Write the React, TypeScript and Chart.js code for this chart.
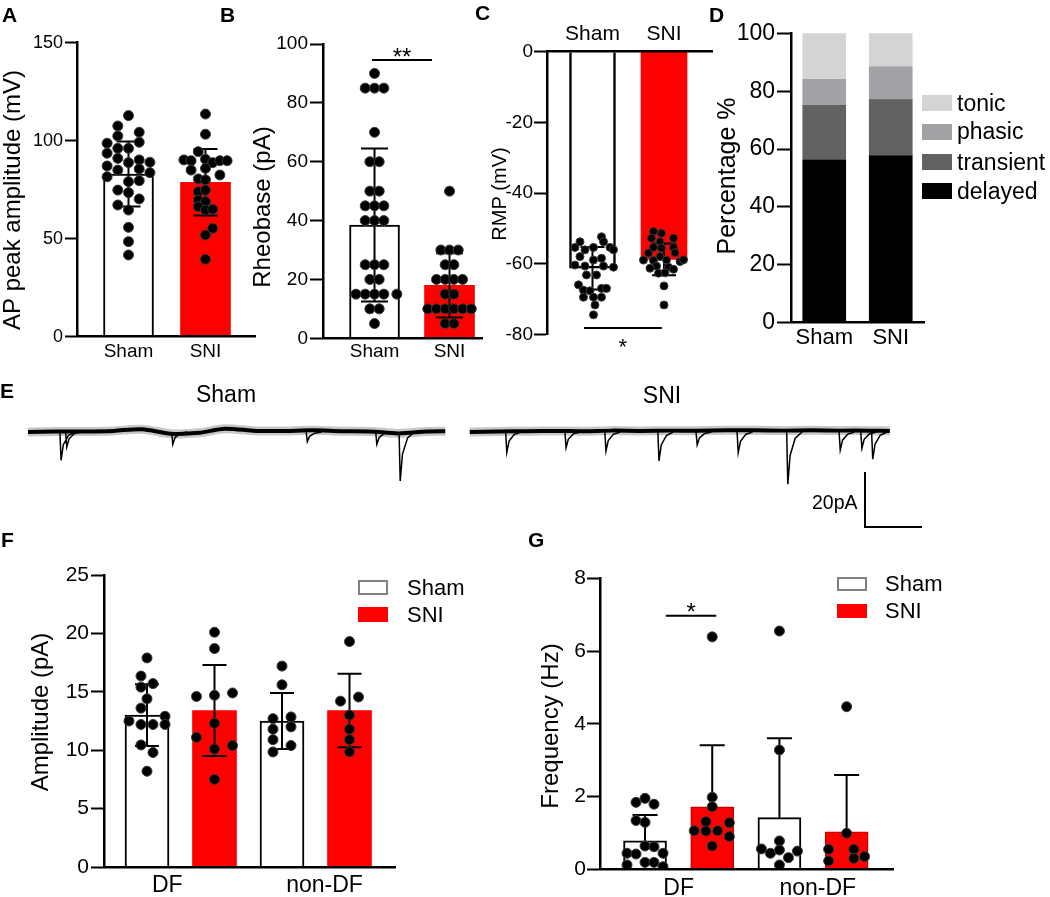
import React, { useEffect, useRef } from "react";
import { Chart, registerables } from "chart.js";
Chart.register(...registerables);

const FONT = "'Liberation Sans', Arial, Helvetica, sans-serif";
const RED = "#ff0000";

// ================= DATA =================
const groups = ["Sham", "SNI"];

// Panel A – AP peak amplitude (mV); points are [column, value]
const apMean = [83.0, 78.8];
const apSD = [16.6, 17.0];
const apSham = [[0,112.8],[-1,107.5],[1,104.3],[-1,102.4],[-2,98.7],[1,99.2],[-1,96.1],[0,96.1],[-2,93.6],[-1,91.0],[0,88.8],[1,90.2],[2,89.0],[-2,87.1],[-1,85.0],[1,85.6],[2,83.7],[-2,81.6],[0,79.1],[1,79.6],[-1,74.8],[0,73.5],[1,70.3],[-1,67.2],[0,64.6],[0,55.8],[0,48.5],[0,41.7]];
const apSNI = [[0,113.6],[0,103.3],[-1,94.4],[-3,90.2],[-2,89.8],[0,90.5],[1,88.8],[2,89.8],[3,89.8],[-2,85.0],[0,85.9],[2,82.5],[-1,80.5],[0,80.0],[-1,74.0],[0,74.8],[-1,69.7],[0,68.9],[-1,66.3],[0,64.6],[1,65.0],[1,55.3],[0,51.9],[0,39.5]];

// Panel B – Rheobase (pA)
const rbMean = [38.5, 18.0];
const rbSD = [26.0, 10.9];
const rbSham = [[0,90],[-1,85],[0,85],[1,85],[0,70],[-0.5,60],[0.5,60],[-0.5,50],[0.5,50],[-1,45],[0,45],[1,45],[-1,40],[0,40],[1,40],[-1,25],[0,25],[1,25],[-0.5,20],[0.5,20],[-2,15],[-1,15],[0,15],[1,15],[2.4,15],[-0.5,10],[0.5,10],[0,5]];
const rbSNI = [[0,50],[-1,30],[0,30],[1,30],[-0.5,25],[0.5,25],[-1.5,20],[-0.5,20],[0.5,20],[1.5,20],[-0.5,15],[0.5,15],[-2.5,10],[-1.5,10],[-0.5,10],[0.5,10],[1.5,10],[2.5,10],[-0.5,5],[0.5,5]];
const rbSig = { from: 0.967, to: 1.767, y: 94.6, text: "**" };

// Panel C – RMP (mV)
const rmpMean = [-61.3, -58.8];
const rmpSD = [6.0, 4.5];
const rmpSham = [[1.8,-52.4],[-2.5,-53.8],[0.2,-55.4],[3.5,-55.4],[-3.5,-55.4],[2.2,-53.8],[4.2,-56.1],[-1.5,-56.1],[-2.5,-58.0],[1.8,-58.5],[0.2,-59.0],[-3.5,-60.4],[-1.5,-60.7],[2.2,-60.7],[4.2,-61.0],[-1.2,-63.2],[0.8,-63.2],[-2.8,-66.0],[1.8,-67.0],[2.8,-67.0],[-1.8,-67.5],[-0.5,-67.7],[-1.8,-69.5],[0.2,-69.5],[1.8,-69.5],[0.5,-71.7],[0.2,-74.5]];
const rmpSNI = [[-2.1,-50.9],[-0.5,-51.4],[1.9,-52.8],[-2.5,-52.8],[-0.8,-53.8],[1.9,-55.4],[-2.1,-55.4],[-0.5,-55.6],[2.2,-56.9],[-3.1,-57.0],[-0.8,-58.0],[-4.1,-59.0],[-2.1,-59.1],[0.5,-59.0],[3.2,-59.4],[3.9,-58.9],[-1.5,-60.7],[0.9,-61.0],[-2.8,-61.3],[1.9,-61.6],[-1.1,-62.7],[0.2,-62.6],[0,-66.3],[0,-71.7]];
const rmpSig = { from: 0.88, to: 1.97, y: -78.2, text: "*" };

// Panel D – firing pattern percentage (bottom to top)
const firingTypes = ["delayed", "transient", "phasic", "tonic"];
const firingSham = [56.2, 18.9, 9.0, 15.9];
const firingSNI = [57.7, 19.4, 11.3, 11.6];

// Panel E – sEPSC traces (time s, current pA)
const shamTraceT = [0, 0.5, 1.0, 1.5, 2.0, 2.5, 3.0, 3.45, 4.0, 4.5, 5.0, 5.5, 6.0, 6.5, 7.0, 7.32];
const shamTraceV = [0.0, 0.2, 0.2, 0.4, 1.0, -0.6, -0.3, 1.2, 0.4, 0.4, 0.6, 0.3, 0.2, -0.5, 0.2, 0.3];
const sniTraceT = [7.75, 8.25, 8.75, 9.25, 9.75, 10.25, 10.75, 11.25, 11.75, 12.25, 12.75, 13.25, 13.75, 14.25, 14.75, 15.12];
const sniTraceV = [0.0, 0.2, 0.3, 0.4, 0.3, 0.5, 0.4, 0.5, 0.5, 0.6, 0.6, 0.5, 0.6, 0.5, 0.5, 0.4];
const shamEvents = [[0.58, 10.3], [0.68, 5.5], [2.54, 4.5], [4.9, 3.5], [6.12, 4.5], [6.53, 17.8]];
const sniEvents = [[8.40, 7.4], [9.44, 5.7], [10.14, 6.9], [11.07, 10.5], [11.74, 4.7], [12.46, 7.5], [13.33, 19.0], [14.25, 6.6], [14.63, 5.9], [14.82, 9.9]];
const scaleBarPA = 20;
const scaleBarSec = 1;

// Panel F – sEPSC amplitude (pA): Sham DF, SNI DF, Sham non-DF, SNI non-DF
const sites = ["DF", "non-DF"];
const ampMean = [13.0, 13.4, 12.5, 13.4];
const ampSD = [2.65, 3.9, 2.4, 3.15];
const ampPts = [
  [[0,17.9],[-1,16.35],[1,15.7],[-1,15.4],[0,14.4],[-1,13.6],[-3,12.5],[3,12.9],[-1,12.2],[1,12.2],[3,12.2],[-1,10.45],[1,9.8],[0,8.2]],
  [[0,20.1],[0,18.7],[-3,14.6],[0,14.7],[3,14.9],[0,12.3],[-3,11.1],[0,10.1],[3,10.4],[0,7.5]],
  [[0,17.2],[0,15.6],[-1.5,12.7],[1.5,12.85],[-1.5,11.8],[1.5,12.0],[-1.5,10.9],[1.5,10.4],[-1.5,9.85]],
  [[0,19.3],[-1.5,14.2],[1.5,14.55],[0,13.0],[0,11.8],[0,10.9],[0,9.85]],
];

// Panel G – sEPSC frequency (Hz)
const freqMean = [0.78, 1.72, 1.42, 1.03];
const freqSD = [0.71, 1.69, 2.18, 1.56];
const freqPts = [
  [[-1,1.84],[0,1.95],[1,1.79],[-1,1.34],[0,1.29],[-2,0.44],[-1,0.42],[0,0.64],[1,0.62],[2,0.44],[-2,0.12],[0,0.19],[1,0.19],[2,0.07]],
  [[0,6.39],[0,1.98],[0,1.72],[-0.7,1.31],[-2,1.06],[-0.7,1.05],[0.6,1.06],[1.9,1.28],[1.9,0.9],[0,0.64]],
  [[0,6.55],[0,3.28],[0,0.78],[-2,0.56],[-1,0.44],[0,0.53],[1,0.32],[2,0.5],[0,0.12]],
  [[0,4.47],[0,0.99],[-2,0.55],[0.8,0.55],[0.8,0.3],[2,0.35],[-2,0.23]],
];
const freqSig = { from: 1.31, to: 2.06, y: 6.97, text: "*" };

// ================= STYLE =================
const FIRING_COLORS: any = { tonic: "#d4d4d4", phasic: "#a2a2a6", transient: "#626262", delayed: "#000000" };

// ================= HELPERS =================
function frame(box: any, area: any, xTop = false) {
  return {
    padding: xTop
      ? { left: 0, top: 0, right: box.l + box.w - area.r, bottom: box.t + box.h - area.b }
      : { left: 0, top: area.t - box.t, right: box.l + box.w - area.r, bottom: 0 },
    yWidth: area.l - box.l,
    xHeight: xTop ? area.t - box.t : box.t + box.h - area.b,
  };
}

const errorBars = {
  id: "errorBars",
  afterDatasetDraw(chart: any, args: any) {
    const ds = chart.data.datasets[args.index];
    if (!ds.sd) return;
    const ctx = chart.ctx as CanvasRenderingContext2D;
    const ys = chart.scales.y;
    ctx.save();
    ctx.strokeStyle = "#000";
    ctx.lineWidth = 2;
    args.meta.data.forEach((el: any, i: number) => {
      const m = ds.data[i].y;
      const s = ds.sd[i];
      const ends = ds.errMode === "up" ? [m + s] : [m + s, m - s];
      const pm = ys.getPixelForValue(m);
      for (const v of ends) {
        const pv = ys.getPixelForValue(v);
        ctx.beginPath();
        ctx.moveTo(el.x, pm);
        ctx.lineTo(el.x, pv);
        ctx.moveTo(el.x - ds.cap / 2, pv);
        ctx.lineTo(el.x + ds.cap / 2, pv);
        ctx.stroke();
      }
    });
    ctx.restore();
  },
};

function overlay(box: any, title: any, sig?: any) {
  return {
    id: "overlay",
    afterDraw(chart: any) {
      const ctx = chart.ctx as CanvasRenderingContext2D;
      ctx.save();
      ctx.fillStyle = "#000";
      ctx.font = `${title.size}px ${FONT}`;
      ctx.textAlign = "center";
      ctx.textBaseline = "middle";
      ctx.translate(title.x - box.l, title.y - box.t);
      ctx.rotate(-Math.PI / 2);
      ctx.fillText(title.text, 0, 0);
      ctx.restore();
      if (sig) {
        const xs = chart.scales.x, ys = chart.scales.y;
        const x1 = xs.getPixelForValue(sig.from);
        const x2 = xs.getPixelForValue(sig.to);
        const py = ys.getPixelForValue(sig.y);
        ctx.save();
        ctx.strokeStyle = "#000";
        ctx.lineWidth = 2;
        ctx.beginPath();
        ctx.moveTo(x1, py);
        ctx.lineTo(x2, py);
        ctx.stroke();
        ctx.fillStyle = "#000";
        ctx.font = `${sig.size}px ${FONT}`;
        ctx.textAlign = "center";
        ctx.textBaseline = "alphabetic";
        ctx.fillText(sig.text, (x1 + x2) / 2, py + sig.dy);
        ctx.restore();
      }
    },
  };
}

function yAxis(s: any, f: any) {
  return {
    type: "linear",
    min: s.yMin,
    max: s.yMax,
    ticks: { stepSize: s.yStep, color: "#000", padding: s.tickPad, font: { family: FONT, size: s.tickSize } },
    grid: { display: true, drawOnChartArea: false, drawTicks: true, tickLength: s.tickLen, tickColor: "#000", tickWidth: 2 },
    border: { display: true, color: "#000", width: 2.5, z: 1 },
    afterFit: (sc: any) => { sc.width = f.yWidth; },
  };
}

function dotChart(canvas: HTMLCanvasElement, s: any) {
  const f = frame(s.box, s.area, !!s.xTop);
  const datasets: any[] = [
    {
      type: "bar",
      order: 2,
      data: s.barX.map((x: number, i: number) => ({ x, y: s.means[i] })),
      backgroundColor: s.fill,
      borderColor: s.stroke,
      borderWidth: s.strokeW,
      barThickness: s.barW,
      sd: s.sd,
      errMode: s.errMode,
      cap: s.cap,
    },
    ...s.pts.map((arr: number[][], i: number) => ({
      type: "scatter",
      order: 1,
      data: arr.map(([c, v]) => ({ x: s.barX[i] + c * s.jitter[i], y: v })),
      pointRadius: s.dotR,
      pointHoverRadius: s.dotR,
      backgroundColor: "#000",
      borderColor: "#3c3c3c",
      borderWidth: 1,
      pointBackgroundColor: "#000",
      pointBorderColor: "#3c3c3c",
      pointBorderWidth: 1,
    })),
  ];
  return new Chart(canvas, {
    type: "bar",
    data: { datasets },
    options: {
      responsive: false,
      animation: false,
      devicePixelRatio: 1,
      events: [],
      layout: { padding: f.padding },
      plugins: { legend: { display: false }, tooltip: { enabled: false } },
      scales: {
        x: {
          type: "linear",
          position: s.xTop ? "top" : "bottom",
          min: s.xMin,
          max: s.xMax,
          offset: false,
          grid: { display: false, drawTicks: false, offset: false },
          border: { display: true, color: "#000", width: 2.5, z: 1 },
          afterBuildTicks: (sc: any) => { sc.ticks = s.labelX.map((v: number) => ({ value: v })); },
          ticks: {
            autoSkip: false,
            maxRotation: 0,
            minRotation: 0,
            padding: s.labelPad,
            color: "#000",
            font: { family: FONT, size: s.labelSize },
            callback: (_v: any, i: number) => s.labels[i],
          },
          afterFit: (sc: any) => { sc.height = f.xHeight; },
        },
        y: yAxis(s, f),
      },
    } as any,
    plugins: [errorBars, overlay(s.box, s.title, s.sig)],
  } as any);
}

function stackChart(canvas: HTMLCanvasElement, s: any) {
  const f = frame(s.box, s.area);
  return new Chart(canvas, {
    type: "bar",
    data: {
      labels: groups,
      datasets: firingTypes.map((name, k) => ({
        label: name,
        data: [firingSham[k], firingSNI[k]],
        backgroundColor: FIRING_COLORS[name],
        borderWidth: 0,
        barThickness: s.barW,
      })),
    },
    options: {
      responsive: false,
      animation: false,
      devicePixelRatio: 1,
      events: [],
      layout: { padding: f.padding },
      plugins: { legend: { display: false }, tooltip: { enabled: false } },
      scales: {
        x: {
          stacked: true,
          grid: { display: false, drawTicks: false },
          border: { display: true, color: "#000", width: 2.5, z: 1 },
          ticks: { color: "#000", padding: s.labelPad, maxRotation: 0, font: { family: FONT, size: s.labelSize } },
          afterFit: (sc: any) => { sc.height = f.xHeight; },
        },
        y: { ...yAxis(s, f), stacked: true },
      },
    } as any,
    plugins: [overlay(s.box, s.title)],
  } as any);
}

// Trace panel geometry (layout constants)
const E_BOX = { l: 20, t: 370, w: 920, h: 170 };
const E_X0 = 28; // page x of t = 0
const E_Y0 = 432; // page y of 0 pA
const E_PX_S = 57;
const E_PX_PA = 2.75;
const E_BAR_ANCHOR = { x: 865, y: 472 };

function traceChart(canvas: HTMLCanvasElement) {
  const line = (T: number[], V: number[]) => T.map((t, i) => ({ x: t, y: V[i] }));
  const spikes = (ev: number[][]) =>
    ev.flatMap(([t, d]) => [
      { x: t - 0.02, y: 0 },
      { x: t, y: -d },
      { x: t + 0.04, y: -d * 0.45 },
      { x: t + 0.13, y: -d * 0.12 },
      { x: t + 0.25, y: 0 },
      { x: t + 0.26, y: null },
    ]);
  const sx = (E_BAR_ANCHOR.x - E_X0) / E_PX_S;
  const sy = (E_Y0 - E_BAR_ANCHOR.y) / E_PX_PA;
  const halo = { borderColor: "rgba(0,0,0,0.22)", borderWidth: 9, pointRadius: 0, tension: 0.3 };
  const core = { borderColor: "#000", borderWidth: 4, pointRadius: 0, tension: 0.3 };
  return new Chart(canvas, {
    type: "line",
    data: {
      datasets: [
        { ...halo, data: line(shamTraceT, shamTraceV) },
        { ...halo, data: line(sniTraceT, sniTraceV) },
        { ...core, data: line(shamTraceT, shamTraceV) },
        { ...core, data: line(sniTraceT, sniTraceV) },
        { data: spikes(shamEvents), borderColor: "#000", borderWidth: 1.5, pointRadius: 0, spanGaps: false },
        { data: spikes(sniEvents), borderColor: "#000", borderWidth: 1.5, pointRadius: 0, spanGaps: false },
        {
          data: [
            { x: sx, y: sy },
            { x: sx, y: sy - scaleBarPA },
            { x: sx + scaleBarSec, y: sy - scaleBarPA },
          ],
          borderColor: "#000",
          borderWidth: 2,
          pointRadius: 0,
        },
      ],
    },
    options: {
      responsive: false,
      animation: false,
      devicePixelRatio: 1,
      events: [],
      layout: { padding: 0 },
      plugins: { legend: { display: false }, tooltip: { enabled: false } },
      scales: {
        x: { type: "linear", display: false, min: (E_BOX.l - E_X0) / E_PX_S, max: (E_BOX.l + E_BOX.w - E_X0) / E_PX_S },
        y: { type: "linear", display: false, min: (E_Y0 - E_BOX.t - E_BOX.h) / E_PX_PA, max: (E_Y0 - E_BOX.t) / E_PX_PA },
      },
    } as any,
  } as any);
}

// ================= PANEL SPECS =================
const specA = {
  box: { l: 0, t: 0, w: 262, h: 380 }, area: { l: 77, r: 255, t: 42.7, b: 336.7 },
  xMin: 0.331, xMax: 2.643, yMin: 0, yMax: 150, yStep: 50,
  barX: [1, 2], means: apMean, sd: apSD, errMode: "both", cap: 24,
  pts: [apSham, apSNI], jitter: [0.139, 0.0935], dotR: 5,
  fill: ["#ffffff", RED], stroke: ["#000", RED], strokeW: [2, 0], barW: 50,
  labelX: [1, 2], labels: groups, labelSize: 19, labelPad: 4,
  tickSize: 18, tickLen: 12, tickPad: 2,
  title: { text: "AP peak amplitude (mV)", x: 13, y: 200, size: 24 },
};
const specB = {
  box: { l: 240, t: 0, w: 250, h: 380 }, area: { l: 323, r: 482, t: 44, b: 338.3 },
  xMin: 0.313, xMax: 2.433, yMin: 0, yMax: 100, yStep: 20,
  barX: [1, 2], means: rbMean, sd: rbSD, errMode: "both", cap: 27,
  pts: [rbSham, rbSNI], jitter: [0.124, 0.116], dotR: 5,
  fill: ["#ffffff", RED], stroke: ["#000", RED], strokeW: [2, 0], barW: 50,
  labelX: [1, 2], labels: groups, labelSize: 19, labelPad: 2.5,
  tickSize: 19, tickLen: 13, tickPad: 2,
  title: { text: "Rheobase (pA)", x: 263, y: 207, size: 24 },
  sig: { ...rbSig, size: 24, dy: 4.7 },
};
const specC = {
  box: { l: 480, t: 0, w: 240, h: 380 }, area: { l: 547, r: 712, t: 51.7, b: 334.3 }, xTop: true,
  xMin: 0.364, xMax: 2.671, yMin: -80, yMax: 0, yStep: 20,
  barX: [1, 2], means: rmpMean, sd: rmpSD, errMode: "both", cap: 24,
  pts: [rmpSham, rmpSNI], jitter: [0.07, 0.07], dotR: 4,
  fill: ["#ffffff", RED], stroke: ["#000", RED], strokeW: [2.5, 0], barW: 46,
  labelX: [1, 2], labels: groups, labelSize: 21, labelPad: 4.9,
  tickSize: 19, tickLen: 13, tickPad: 1,
  title: { text: "RMP (mV)", x: 500, y: 194, size: 20 },
  sig: { ...rmpSig, size: 22, dy: 26.5 },
};
const specD = {
  box: { l: 705, t: 0, w: 235, h: 380 }, area: { l: 791, r: 924, t: 33.3, b: 322.7 },
  yMin: 0, yMax: 100, yStep: 20, barW: 43,
  labelSize: 22, labelPad: 1.6, tickSize: 23, tickLen: 14, tickPad: 2,
  title: { text: "Percentage %", x: 728, y: 176, size: 25 },
};
const specF = {
  box: { l: 20, t: 555, w: 390, h: 342 }, area: { l: 104, r: 395, t: 575, b: 867 },
  xMin: 0.363, xMax: 4.674, yMin: 0, yMax: 25, yStep: 5,
  barX: [1, 2, 3, 4], means: ampMean, sd: ampSD, errMode: "both", cap: 24,
  pts: ampPts, jitter: [0.089, 0.089, 0.089, 0.089], dotR: 5,
  fill: ["#ffffff", RED, "#ffffff", RED], stroke: ["#000", RED, "#000", RED], strokeW: [2, 0, 2, 0], barW: 44,
  labelX: [1.3, 3.63], labels: sites, labelSize: 23, labelPad: 4.7,
  tickSize: 21, tickLen: 13, tickPad: 2,
  title: { text: "Amplitude (pA)", x: 41, y: 712, size: 24 },
};
const specG = {
  box: { l: 520, t: 555, w: 385, h: 342 }, area: { l: 600, r: 893, t: 578.3, b: 869.3 },
  xMin: 0.33, xMax: 4.69, yMin: 0, yMax: 8, yStep: 2,
  barX: [1, 2, 3, 4], means: freqMean, sd: freqSD, errMode: "up", cap: 25,
  pts: freqPts, jitter: [0.134, 0.134, 0.134, 0.134], dotR: 5,
  fill: ["#ffffff", RED, "#ffffff", RED], stroke: ["#000", "#c80000", "#000", "#c80000"], strokeW: [2, 1.5, 2, 1.5], barW: 43,
  labelX: [1.5, 3.57], labels: sites, labelSize: 23, labelPad: 5.2,
  tickSize: 21, tickLen: 13, tickPad: 1,
  title: { text: "Frequency (Hz)", x: 551, y: 726, size: 24 },
  sig: { ...freqSig, size: 24, dy: 4 },
};

// ================= COMPONENTS =================
function ChartCanvas({ box, make }: { box: any; make: (c: HTMLCanvasElement) => Chart }) {
  const ref = useRef<HTMLCanvasElement>(null);
  useEffect(() => {
    const chart = make(ref.current as HTMLCanvasElement);
    return () => chart.destroy();
  }, []);
  return (
    <canvas
      ref={ref}
      width={box.w}
      height={box.h}
      style={{ position: "absolute", left: box.l, top: box.t, width: box.w, height: box.h }}
    />
  );
}

function Txt({ x, y, size, children, bold, center }: any) {
  return (
    <div
      style={{
        position: "absolute",
        left: x,
        top: y,
        fontFamily: FONT,
        fontSize: size,
        lineHeight: 1,
        fontWeight: bold ? "bold" : "normal",
        whiteSpace: "nowrap",
        color: "#000",
        transform: center ? "translateX(-50%)" : undefined,
      }}
    >
      {children}
    </div>
  );
}

function LegendRow({ bx, cy, bw, bh, tx, size, label, fill, outline }: any) {
  return (
    <>
      <div
        style={{
          position: "absolute",
          left: bx,
          top: cy - bh / 2,
          width: bw,
          height: bh,
          boxSizing: "border-box",
          background: fill,
          border: outline ? `2px solid ${outline}` : "none",
        }}
      />
      <Txt x={tx} y={cy - size / 2} size={size}>{label}</Txt>
    </>
  );
}

const letters = [
  ["A", 2, 4], ["B", 220, 4], ["C", 475, 2], ["D", 709, 4],
  ["E", 0, 380], ["F", 1, 529], ["G", 528, 529],
];
const dLegendY = [191, 162, 131.7, 103.3];

export default function App() {
  return (
    <div style={{ position: "absolute", left: 0, top: 0, width: 1050, height: 897, background: "#fff", overflow: "hidden" }}>
      <ChartCanvas box={specA.box} make={(c) => dotChart(c, specA)} />
      <ChartCanvas box={specB.box} make={(c) => dotChart(c, specB)} />
      <ChartCanvas box={specC.box} make={(c) => dotChart(c, specC)} />
      <ChartCanvas box={specD.box} make={(c) => stackChart(c, specD)} />
      <ChartCanvas box={E_BOX} make={(c) => traceChart(c)} />
      <ChartCanvas box={specF.box} make={(c) => dotChart(c, specF)} />
      <ChartCanvas box={specG.box} make={(c) => dotChart(c, specG)} />

      {letters.map(([t, x, y]) => (
        <Txt key={t as string} x={x} y={y} size={21} bold>{t}</Txt>
      ))}

      {/* D legend */}
      {firingTypes.map((name, k) => (
        <LegendRow key={name} bx={922} cy={dLegendY[k]} bw={30} bh={16} tx={957} size={23} label={name} fill={FIRING_COLORS[name]} />
      ))}

      {/* E labels */}
      <Txt x={226} y={383} size={23} center>{groups[0]}</Txt>
      <Txt x={662} y={383.5} size={23} center>{groups[1]}</Txt>
      <Txt x={812} y={493} size={19.5}>{`${scaleBarPA}pA`}</Txt>

      {/* F legend */}
      <LegendRow bx={358} cy={587.5} bw={30} bh={15} tx={407} size={22} label={groups[0]} fill="#fff" outline="#808080" />
      <LegendRow bx={358} cy={614.5} bw={30} bh={15} tx={407} size={22} label={groups[1]} fill={RED} />

      {/* G legend */}
      <LegendRow bx={837} cy={584} bw={30} bh={14.5} tx={885} size={22} label={groups[0]} fill="#fff" outline="#808080" />
      <LegendRow bx={837} cy={611} bw={30} bh={14.5} tx={885} size={22} label={groups[1]} fill={RED} />
    </div>
  );
}
